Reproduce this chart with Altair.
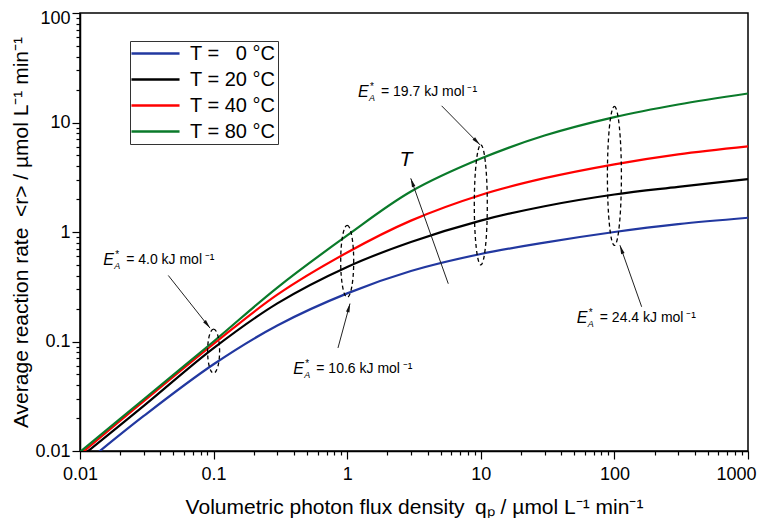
import math
import altair as alt
import pandas as pd

# ---------------- data ----------------
q = [0.01, 0.03, 0.1, 0.3, 1, 3, 10, 30, 100, 300, 1000]
series = ["T = \u20070 °C", "T = 20 °C", "T = 40 °C", "T = 80 °C"]
colors = ["#2238a0", "#000000", "#ff0000", "#0a7a2a"]
r_0 = [0.0071, 0.0209, 0.062, 0.140, 0.275, 0.44, 0.63, 0.80, 1.00, 1.18, 1.35]
r_20 = [0.0087, 0.0258, 0.087, 0.223, 0.48, 0.81, 1.27, 1.72, 2.20, 2.58, 3.04]
r_40 = [0.0093, 0.0285, 0.095, 0.268, 0.65, 1.27, 2.18, 3.10, 4.15, 5.12, 6.06]
r_80 = [0.0098, 0.0297, 0.100, 0.311, 0.93, 2.34, 4.68, 7.60, 11.2, 14.6, 18.4]

# dashed ellipses (centres, data units)
ell_x = [0.1, 1, 10, 100]
ell_y = [0.0817, 0.54, 1.77, 3.25]

# arrows: tail -> head (data units)
arr_tail_x = [0.0458, 0.853, 5.09, 160, 5.71]
arr_tail_y = [0.401, 0.0873, 14.2, 0.2075, 0.337]
arr_head_x = [0.094, 1.05, 9.86, 110, 2.99]
arr_head_y = [0.1325, 0.222, 6.25, 0.757, 3.09]

# activation-energy labels (left edge of "E", data units)
lab_x = [0.0149, 0.395, 1.205, 52.3]
lab_y = [0.551, 0.0558, 18.8, 0.163]
lab_txt = ["= 4.0 kJ mol\u2009⁻¹", "= 10.6 kJ mol\u2009⁻¹",
           "= 19.7 kJ mol\u2009⁻¹", "= 24.4 kJ mol\u2009⁻¹"]

t_x = [2.75]
t_y = [4.53]

x_major = [0.01, 0.1, 1, 10, 100, 1000]
y_major = [0.01, 0.1, 1, 10, 100]
minor_mult = [2, 3, 4, 5, 6, 7, 8, 9]

# ---------------- layout / styles ----------------
W, H = 668, 438
FONT = "Liberation Sans"
ELL_PX = [(12, 44), (13, 72), (13, 120), (14, 139)]  # (width, height) px

x_ticks = x_major + [m * d for d in x_major[:-1] for m in minor_mult]
y_ticks = y_major + [m * d for d in y_major[:-1] for m in minor_mult]

TEST = "abs(log(datum.value)/LN10 - round(log(datum.value)/LN10)) < 0.001"
XS = alt.Scale(type="log", domain=[0.01, 1000], nice=False)
YS = alt.Scale(type="log", domain=[0.01, 100], nice=False)

xaxis = alt.Axis(values=x_ticks, format="~g",
                 labelExpr=f"{TEST} ? datum.label : ''",
                 tickSize={"condition": {"test": TEST, "value": 8}, "value": 4},
                 labelOffset={"condition": {"test": "datum.value > 999", "value": -12},
                              "value": 0},
                 labelPadding=6, titlePadding=13, labelFlush=False,
                 title="Volumetric photon flux density\u2002qₚ / µmol L⁻¹ min⁻¹")
yaxis = alt.Axis(values=y_ticks, format="~g",
                 labelExpr=f"{TEST} ? datum.label : ''",
                 tickSize={"condition": {"test": TEST, "value": 8}, "value": 4},
                 labelOffset={"condition": {"test": "datum.value > 99", "value": 5},
                              "value": 0},
                 labelPadding=2, titlePadding=3, labelFlush=False,
                 title="Average reaction rate\u2002<r> / µmol L⁻¹ min⁻¹")


def X(field):
    return alt.X(field, scale=XS, axis=xaxis)


def Y(field):
    return alt.Y(field, scale=YS, axis=yaxis)


rows = []
for name, vals in zip(series, [r_0, r_20, r_40, r_80]):
    for xv, yv in zip(q, vals):
        rows.append({"q": xv, "r": yv, "T": name})
df_lines = pd.DataFrame(rows)

lines = alt.Chart(df_lines).mark_line(
    strokeWidth=2.2, interpolate="catmull-rom", clip=True
).encode(
    x=X("q:Q"),
    y=Y("r:Q"),
    color=alt.Color("T:N", scale=alt.Scale(domain=series, range=colors),
                    legend=alt.Legend(orient="none", legendX=50, legendY=28,
                                      title=None, symbolType="M-2.67,0L2.67,0",
                                      symbolSize=324, symbolStrokeWidth=2.5,
                                      symbolOffset=13, labelOffset=24,
                                      padding=2, rowPadding=5,
                                      labelFontSize=20, labelFont=FONT,
                                      labelColor="black",
                                      strokeColor="#333333")),
    order=alt.Order("q:Q"),
)


def ellipse_path(a):
    k = 0.5523
    return (f"M0,-1C{k*a:.4f},-1 {a:.4f},-{k} {a:.4f},0"
            f"C{a:.4f},{k} {k*a:.4f},1 0,1"
            f"C{-k*a:.4f},1 {-a:.4f},{k} {-a:.4f},0"
            f"C{-a:.4f},-{k} {-k*a:.4f},-1 0,-1Z")


ellipses = []
for i in range(len(ell_x)):
    w, h = ELL_PX[i]
    d = pd.DataFrame({"q": [ell_x[i]], "r": [ell_y[i]]})
    ellipses.append(
        alt.Chart(d).mark_point(shape=ellipse_path(w / h), size=h * h,
                                filled=False, stroke="black", strokeWidth=1.3,
                                strokeDash=[4, 3], opacity=1)
        .encode(x=X("q:Q"), y=Y("r:Q"))
    )


def angle(tx, ty, hx, hy):
    dx = (math.log10(hx) - math.log10(tx)) * W / 5
    dy = -(math.log10(hy) - math.log10(ty)) * H / 4
    return math.degrees(math.atan2(dx, -dy)) % 360


df_arr = pd.DataFrame({
    "q": arr_tail_x, "r": arr_tail_y, "q2": arr_head_x, "r2": arr_head_y,
})
df_arr["ang"] = [angle(a, b, c, d) for a, b, c, d in
                 zip(arr_tail_x, arr_tail_y, arr_head_x, arr_head_y)]

arrow_lines = alt.Chart(df_arr).mark_rule(color="#222222", strokeWidth=1).encode(
    x=X("q:Q"), y=Y("r:Q"), x2="q2:Q", y2="r2:Q")

arrow_heads = alt.Chart(df_arr).mark_point(
    shape="M0,0L-0.45,2.2L0.45,2.2Z", size=64, filled=True,
    color="#111111", opacity=1, strokeWidth=0
).encode(
    x=X("q2:Q"), y=Y("r2:Q"),
    angle=alt.Angle("ang:Q", scale=None))

df_lab = pd.DataFrame({"q": lab_x, "r": lab_y, "txt": lab_txt})
lab_base = alt.Chart(df_lab).encode(x=X("q:Q"), y=Y("r:Q"))
lab_E = lab_base.mark_text(text="E", font=FONT, fontSize=16, fontStyle="italic",
                           align="left", baseline="middle", color="black")
lab_star = lab_base.mark_text(text="*", font=FONT, fontSize=10, align="left",
                              baseline="middle", dx=12, dy=-5, color="black")
lab_A = lab_base.mark_text(text="A", font=FONT, fontSize=9, fontStyle="italic",
                           align="left", baseline="middle", dx=11, dy=6,
                           color="black")
lab_rest = lab_base.mark_text(font=FONT, fontSize=14, align="left",
                              baseline="middle", dx=23, color="black").encode(
    text="txt:N")

df_t = pd.DataFrame({"q": t_x, "r": t_y})
t_label = alt.Chart(df_t).mark_text(text="T", font=FONT, fontSize=21,
                                    fontStyle="italic", align="center",
                                    baseline="middle", color="black").encode(
    x=X("q:Q"), y=Y("r:Q"))

chart = alt.layer(
    lines, *ellipses, arrow_lines, arrow_heads,
    lab_E, lab_star, lab_A, lab_rest, t_label
).properties(
    width=W, height=H,
    autosize=alt.AutoSizeParams(type="none"),
    padding={"left": 72, "right": 9, "top": 5, "bottom": 67},
    background="white",
).configure_view(
    stroke="black", strokeWidth=1.5
).configure_axis(
    domainColor="black", domainWidth=1.5, tickColor="black", tickWidth=1.2,
    labelFont=FONT, labelFontSize=18, labelColor="black",
    titleFont=FONT, titleFontSize=21, titleFontWeight="normal",
    titleColor="black", grid=False,
).configure_legend(
    strokeWidth=1
)

chart.save("out.html", embed_options={"renderer": "svg", "actions": False})
